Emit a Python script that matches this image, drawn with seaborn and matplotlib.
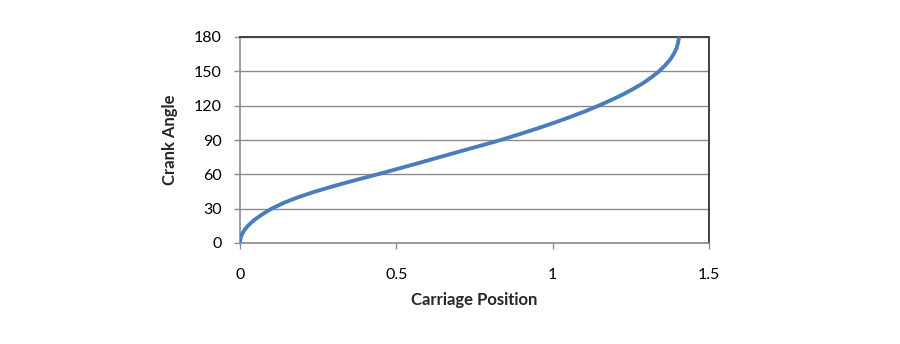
import matplotlib
matplotlib.use("Agg")
import matplotlib.pyplot as plt
import seaborn as sns
import pandas as pd

# Data
crank_angle = [0, 2, 4, 6, 8, 10, 12, 15, 20, 25, 30, 35, 40, 45, 50, 55, 60,
               65, 70, 75, 80, 85, 90, 95, 100, 105, 110, 115, 120, 125, 130,
               135, 140, 145, 150, 155, 160, 165, 170, 175, 178, 180]
carriage_position = [0.0, 0.0005, 0.0018, 0.004, 0.0072, 0.0112, 0.016, 0.025,
                     0.045, 0.071, 0.101, 0.139, 0.186, 0.241, 0.303, 0.370,
                     0.440, 0.507, 0.573, 0.638, 0.703, 0.769, 0.834, 0.893,
                     0.950, 1.004, 1.055, 1.103, 1.147, 1.188, 1.226, 1.260,
                     1.291, 1.317, 1.340, 1.359, 1.375, 1.387, 1.396, 1.401,
                     1.403, 1.404]
x_ticks = [0, 0.5, 1, 1.5]
x_tick_labels = ["0", "0.5", "1", "1.5"]
y_ticks = [0, 30, 60, 90, 120, 150, 180]

df = pd.DataFrame({"Carriage Position": carriage_position, "Crank Angle": crank_angle})

sns.set_style("white")
plt.rcParams["font.family"] = ["Lato", "DejaVu Sans"]

fig = plt.figure(figsize=(9, 3.44), dpi=100)
ax = fig.add_axes([240 / 900, 1 - 243 / 344, (709 - 240) / 900, (243 - 37) / 344])

sns.lineplot(data=df, x="Carriage Position", y="Crank Angle", sort=False,
             color="#4A7EBB", linewidth=2.8, ax=ax, zorder=3)

ax.set_xlim(0, 1.5)
ax.set_ylim(0, 180)
ax.set_xticks(x_ticks)
ax.set_xticklabels(x_tick_labels)
ax.set_yticks(y_ticks)
ax.set_yticklabels([str(v) for v in y_ticks])

ax.grid(axis="y", color="#8C8C8C", linewidth=1.0)
ax.grid(axis="x", visible=False)
ax.set_axisbelow(True)

for side in ["left", "bottom"]:
    ax.spines[side].set_color("#8C8C8C")
    ax.spines[side].set_linewidth(1.2)
for side in ["top", "right"]:
    ax.spines[side].set_visible(True)
    ax.spines[side].set_color("#404040")
    ax.spines[side].set_linewidth(1.4)

ax.tick_params(axis="y", which="major", direction="out", length=4.3, width=1.0,
               color="#8C8C8C", pad=9, labelsize=11.5, labelcolor="#000000", left=True)
ax.tick_params(axis="x", which="major", direction="out", length=4.3, width=1.0,
               color="#8C8C8C", pad=14, labelsize=11.5, labelcolor="#000000", bottom=True)

ax.set_xlabel("Carriage Position", fontsize=12, fontweight="bold", labelpad=7)
ax.set_ylabel("Crank Angle", fontsize=12, fontweight="bold", labelpad=11)

fig.savefig("out.png", dpi=100)
